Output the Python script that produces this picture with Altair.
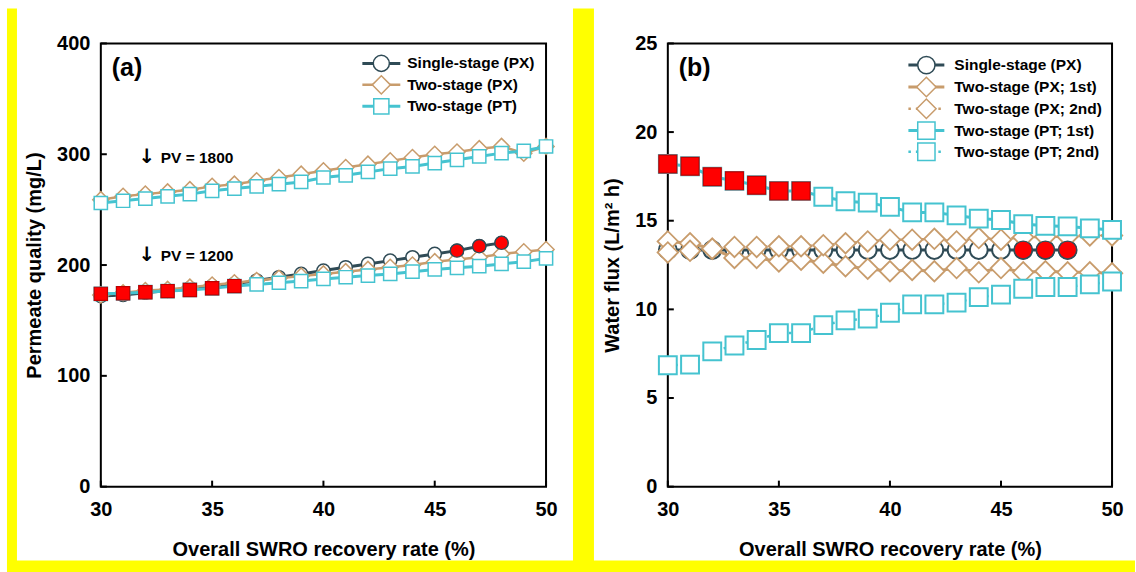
import altair as alt
import pandas as pd

FONT = "Liberation Sans"
DARK = "#2f4b56"
TAN = "#c89c6c"
CYAN = "#45c3d0"
RED = "#ff0000"
RED_EDGE = "#c00000"
YELLOW = "#ffff00"

# ---------------- data ----------------
recovery = [30, 31, 32, 33, 34, 35, 36, 37, 38, 39, 40, 41, 42, 43, 44, 45, 46, 47, 48, 49, 50]
recovery_single = [30, 31, 32, 33, 34, 35, 36, 37, 38, 39, 40, 41, 42, 43, 44, 45, 46, 47, 48]
red_pt_x = [30, 31, 32, 33, 34, 35, 36]
red_single_x = [46, 47, 48]

x_ticks = [30, 35, 40, 45, 50]
a_y_ticks = [0, 100, 200, 300, 400]
b_y_ticks = [0, 5, 10, 15, 20, 25]

# (a) permeate quality, mg/L
a_single_1200 = [172, 173, 175, 177, 179, 181, 183, 186, 189, 192, 195, 198, 201, 204, 207, 210, 213, 217, 220]
a_px_1200 = [173, 175, 177, 178, 180, 182, 184, 186, 188, 190, 192, 194, 196, 198, 200, 203, 205, 207, 210, 212, 214]
a_pt_1200 = [174, 174.5, 175.5, 176.5, 177.5, 179, 181, 182.5, 184, 185.5, 187.5, 189, 190.5, 192, 194, 196, 197.5, 199, 201, 203, 206]
a_px_1800 = [259, 262, 264, 266, 268, 271, 273, 276, 279, 282, 285, 288, 291, 294, 297, 300, 302, 305, 307, 301, 307]
a_pt_1800 = [256, 258, 260, 262, 264, 267, 269, 271, 273, 275, 279, 281, 284, 287, 289, 292, 295, 298, 301, 303, 307]

# (b) water flux, L/m2 h
b_single = [13.35, 13.35, 13.35, 13.35, 13.35, 13.35, 13.35, 13.35, 13.35, 13.35, 13.35, 13.35, 13.35, 13.35, 13.35, 13.35, 13.35, 13.35, 13.35]
b_px_1st = [13.83, 13.73, 13.42, 12.9, 12.9, 12.7, 12.8, 12.63, 12.43, 12.29, 12.15, 12.22, 12.15, 12.33, 12.09, 12.33, 12.09, 12.15, 12.09, 12.09, 12.03]
b_px_2nd = [13.21, 13.3, 13.42, 13.52, 13.52, 13.56, 13.56, 13.62, 13.73, 13.83, 13.93, 13.93, 13.98, 13.83, 14.02, 13.93, 14.07, 14.1, 14.1, 14.17, 14.17]
b_pt_1st = [18.2, 18.07, 17.48, 17.25, 17.0, 16.68, 16.68, 16.35, 16.1, 16.02, 15.78, 15.47, 15.47, 15.3, 15.12, 15.04, 14.81, 14.71, 14.68, 14.57, 14.48]
b_pt_2nd = [6.85, 6.88, 7.63, 7.96, 8.27, 8.66, 8.66, 9.11, 9.38, 9.48, 9.81, 10.28, 10.28, 10.38, 10.69, 10.83, 11.16, 11.26, 11.26, 11.41, 11.57]

legend_a_labels = ["Single-stage (PX)", "Two-stage (PX)", "Two-stage (PT)"]
legend_b_labels = ["Single-stage (PX)", "Two-stage (PX; 1st)", "Two-stage (PX; 2nd)",
                   "Two-stage (PT; 1st)", "Two-stage (PT; 2nd)"]
annotations = ["PV = 1800", "PV = 1200"]

# ---------------- layout ----------------
W_A, W_B, H = 446, 445, 444
one = pd.DataFrame({"k": [0]})


def xenc():
    return alt.X("x:Q", scale=alt.Scale(domain=[30, 50], nice=False, zero=False),
                 axis=alt.Axis(values=x_ticks, title="Overall SWRO recovery rate (%)",
                               labelPadding=13, titlePadding=20, labelFlush=False))


def yenc(domain, ticks, title):
    return alt.Y("y:Q", scale=alt.Scale(domain=domain, nice=False, zero=False),
                 axis=alt.Axis(values=ticks, title=title, labelPadding=11, titlePadding=12,
                               labelFlush=False))


def series(xs, ys, ydef, color, shape, size, lw=3, sw=1.5, dash=None, line=True):
    df = pd.DataFrame({"x": xs, "y": ys})
    base = alt.Chart(df).encode(x=xenc(), y=ydef())
    layers = []
    if line:
        kw = dict(color=color, strokeWidth=lw)
        if dash is not None:
            kw["strokeDash"] = dash
        layers.append(base.mark_line(**kw))
    layers.append(base.mark_point(shape=shape, size=size, filled=True, fill="white",
                                  stroke=color, strokeWidth=sw, opacity=1))
    return layers


def highlight(xs_all, ys_all, keep, ydef, shape, size, edge, sw=1.2):
    xs = [x for x in xs_all if x in keep]
    ys = [y for x, y in zip(xs_all, ys_all) if x in keep]
    df = pd.DataFrame({"x": xs, "y": ys})
    return alt.Chart(df).mark_point(shape=shape, size=size, filled=True, fill=RED,
                                    stroke=edge, strokeWidth=sw, opacity=1).encode(x=xenc(), y=ydef())


def rect(x1, x2, y1, y2):
    return alt.Chart(one).mark_rect(color=YELLOW).encode(
        x=alt.value(x1), x2=alt.value(x2), y=alt.value(y1), y2=alt.value(y2))


def ticks(ydef, yt):
    tx = alt.Chart(pd.DataFrame({"x": x_ticks})).mark_rule(color="black", strokeWidth=2).encode(
        x=xenc(), y=alt.value(H), y2=alt.value(H - 6))
    ty = alt.Chart(pd.DataFrame({"y": yt})).mark_rule(color="black", strokeWidth=2).encode(
        y=ydef(), x=alt.value(0), x2=alt.value(6))
    return [tx, ty]


def text(x, y, s, size=15.5, align="left", font=FONT):
    return alt.Chart(one).mark_text(align=align, baseline="middle", font=font, fontWeight="bold",
                                    fontSize=size, color="black").encode(
        x=alt.value(x), y=alt.value(y), text=alt.value(s))


def legend_entry(xl, xm, xr, xt, y, label, color, shape, size, lw, dash=None, sw=1.5):
    kw = dict(color=color, strokeWidth=lw)
    if dash is not None:
        kw["strokeDash"] = dash
    ln = alt.Chart(one).mark_rule(**kw).encode(
        x=alt.value(xl), x2=alt.value(xr), y=alt.value(y))
    pt = alt.Chart(one).mark_point(shape=shape, size=size, filled=True, fill="white",
                                   stroke=color, strokeWidth=sw, opacity=1).encode(
        x=alt.value(xm), y=alt.value(y))
    return [ln, pt, text(xt, y, label)]


# ---------------- panel (a) ----------------
ya = lambda: yenc([0, 400], a_y_ticks, "Permeate quality (mg/L)")
SA = 175
layers_a = [
    rect(-94, -84, -35, 530),      # left frame
    rect(473, 494, -35, 530),      # middle frame
    rect(-94, 494, 518, 530),      # bottom frame
]
layers_a += series(recovery, a_px_1800, ya, TAN, "diamond", 260, lw=2.5)
layers_a += series(recovery, a_pt_1800, ya, CYAN, "square", SA, lw=3)
layers_a += series(recovery_single, a_single_1200, ya, DARK, "circle", SA, lw=3)
layers_a += series(recovery, a_px_1200, ya, TAN, "diamond", 260, lw=2.5)
layers_a += series(recovery, a_pt_1200, ya, CYAN, "square", SA, lw=3)
layers_a.append(highlight(recovery, a_pt_1200, red_pt_x, ya, "square", SA, RED_EDGE))
layers_a.append(highlight(recovery_single, a_single_1200, red_single_x, ya, "circle", SA, DARK))
layers_a += ticks(ya, a_y_ticks)
# legend
leg_y_a = [20, 41.5, 63]
layers_a += legend_entry(262, 281, 300, 307, leg_y_a[0], legend_a_labels[0], DARK, "circle", 260, 3)
layers_a += legend_entry(262, 281, 300, 307, leg_y_a[1], legend_a_labels[1], TAN, "diamond", 330, 2.5)
layers_a += legend_entry(262, 281, 300, 307, leg_y_a[2], legend_a_labels[2], CYAN, "square", 230, 3)
layers_a.append(text(11, 25, "(a)", size=25))
layers_a.append(text(46, 114, "\u2193", size=20, align="center", font="DejaVu Sans"))
layers_a.append(text(60, 115, annotations[0]))
layers_a.append(text(46, 212, "\u2193", size=20, align="center", font="DejaVu Sans"))
layers_a.append(text(60, 213, annotations[1]))

panel_a = alt.layer(*layers_a).properties(width=W_A, height=H)

# ---------------- panel (b) ----------------
yb = lambda: yenc([0, 25], b_y_ticks, "Water flux (L/m\u00b2 h)")
SB = 320
DOT = [2.5, 5]
layers_b = [
    rect(-74, 468, 518, 530),      # bottom frame
]
layers_b += series(recovery_single, b_single, yb, DARK, "circle", SB, lw=3, sw=2)
layers_b += series(recovery, b_px_1st, yb, TAN, "diamond", 420, lw=3, sw=1.8)
layers_b += series(recovery, b_px_2nd, yb, TAN, "diamond", 420, lw=2.5, sw=1.8, dash=DOT)
layers_b += series(recovery, b_pt_1st, yb, CYAN, "square", SB, lw=3, sw=2)
layers_b += series(recovery, b_pt_2nd, yb, CYAN, "square", SB, lw=2.5, sw=2, dash=DOT)
layers_b.append(highlight(recovery, b_pt_1st, red_pt_x, yb, "square", SB, RED_EDGE))
layers_b.append(highlight(recovery_single, b_single, red_single_x, yb, "circle", SB, DARK))
layers_b += ticks(yb, b_y_ticks)
leg_y_b = [21.7, 43.6, 65.5, 87.3, 108.5]
layers_b += legend_entry(241, 259, 277, 287, leg_y_b[0], legend_b_labels[0], DARK, "circle", 300, 3)
layers_b += legend_entry(241, 259, 277, 287, leg_y_b[1], legend_b_labels[1], TAN, "diamond", 380, 3)
layers_b += legend_entry(241, 259, 277, 287, leg_y_b[2], legend_b_labels[2], TAN, "diamond", 380, 2.5, dash=DOT)
layers_b += legend_entry(241, 259, 277, 287, leg_y_b[3], legend_b_labels[3], CYAN, "square", 300, 3)
layers_b += legend_entry(241, 259, 277, 287, leg_y_b[4], legend_b_labels[4], CYAN, "square", 300, 2.5, dash=DOT)
layers_b.append(text(11, 25, "(b)", size=25))

panel_b = alt.layer(*layers_b).properties(width=W_B, height=H)

chart = alt.hconcat(panel_a, panel_b, spacing=122, bounds="flush").properties(
    padding={"left": 6, "top": 7, "right": 0, "bottom": 0},
    background="white",
).configure_view(
    stroke="black", strokeWidth=2
).configure_axis(
    grid=False, domain=False, ticks=False,
    labelFont=FONT, labelFontWeight="bold", labelFontSize=20, labelColor="black",
    titleFont=FONT, titleFontWeight="bold", titleFontSize=20, titleColor="black",
)

chart.save("out.html", embed_options={"renderer": "svg", "actions": False})
